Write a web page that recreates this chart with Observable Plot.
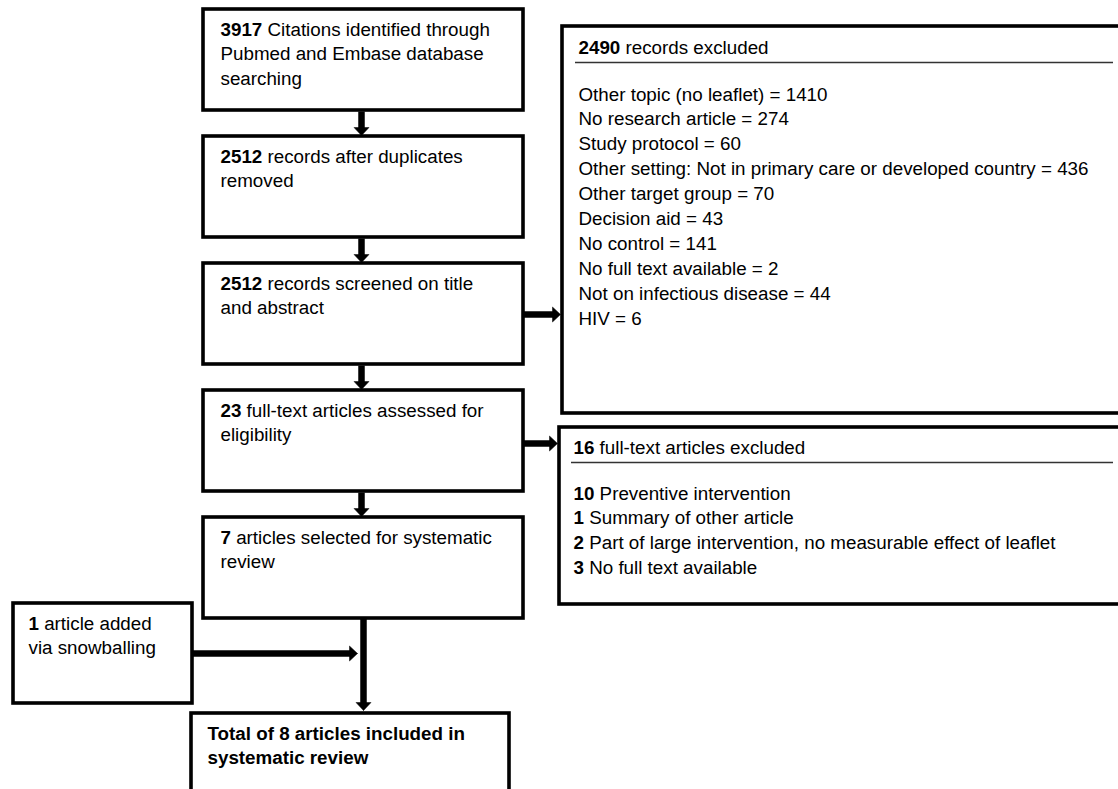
<!DOCTYPE html>
<html>
<head>
<meta charset="utf-8">
<script src="https://cdn.jsdelivr.net/npm/d3@7"></script>
<script src="https://cdn.jsdelivr.net/npm/@observablehq/plot@0.6"></script>
<style>
  html, body { margin: 0; padding: 0; background: white; overflow: hidden; }
  #chart svg { display: block; }
</style>
</head>
<body>
<div id="chart"></div>
<script>
// ---------- data ----------
const stageCounts = ["3917", "2512", "2512", "23", "7"];
const stageText = [
  ["Citations identified through", "Pubmed and Embase database", "searching"],
  ["records after duplicates", "removed"],
  ["records screened on title", "and abstract"],
  ["full-text articles assessed for", "eligibility"],
  ["articles selected for systematic", "review"]
];
const addedCount = "1";
const addedText = ["article added", "via snowballing"];
const finalText = ["Total of 8 articles included in", "systematic review"];

const excl1Count = "2490";
const excl1Title = "records excluded";
const excl1Reasons = [
  "Other topic (no leaflet)", "No research article", "Study protocol",
  "Other setting: Not in primary care or developed country", "Other target group",
  "Decision aid", "No control", "No full text available",
  "Not on infectious disease", "HIV"
];
const excl1Values = [1410, 274, 60, 436, 70, 43, 141, 2, 44, 6];

const excl2Count = "16";
const excl2Title = "full-text articles excluded";
const excl2Values = [10, 1, 2, 3];
const excl2Reasons = [
  "Preventive intervention", "Summary of other article",
  "Part of large intervention, no measurable effect of leaflet",
  "No full text available"
];

// ---------- layout ----------
const W = 1118, H = 789;
const FS = 18.8, LH = 24.9;
const FONT = '"Liberation Sans", Arial, Helvetica, sans-serif';
const layout = {
  colX1: 203, colX2: 523, rowTop: 9, rowPitch: 127, rowH: 101,
  added: {x1: 13, x2: 192, y1: 603, y2: 703},
  final: {x1: 191, x2: 509, y1: 713, y2: 830},
  ex1: {x1: 562, x2: 1124, y1: 26, y2: 413, sep: 62, head: 47, first: 94},
  ex2: {x1: 559, x2: 1124, y1: 427, y2: 604, sep: 462, head: 447, first: 493},
  pad: 17, arrowX: 361
};

const canvas = document.createElement("canvas");
const ctx = canvas.getContext("2d");
function measure(str, bold) {
  ctx.font = `${bold ? "bold " : ""}${FS}px ${FONT}`;
  return ctx.measureText(str).width;
}

// boxes
const boxes = [];
stageCounts.forEach((c, i) => {
  const y1 = layout.rowTop + layout.rowPitch * i;
  boxes.push({x1: layout.colX1, x2: layout.colX2, y1, y2: y1 + layout.rowH});
});
boxes.push(layout.added, layout.final, layout.ex1, layout.ex2);

// text segments
const segs = [];
function addLine(x, y, boldPart, rest) {
  if (boldPart) {
    segs.push({x, y, t: boldPart, bold: true});
    if (rest) segs.push({x: x + measure(boldPart, true) + measure(" ", false), y, t: rest, bold: false});
  } else {
    segs.push({x, y, t: rest, bold: false});
  }
}
stageCounts.forEach((c, i) => {
  const b = boxes[i];
  stageText[i].forEach((line, j) => {
    addLine(b.x1 + layout.pad, b.y1 + 20 + j * LH, j === 0 ? c : null, line);
  });
});
addedText.forEach((line, j) => addLine(layout.added.x1 + 15, layout.added.y1 + 20 + j * LH, j === 0 ? addedCount : null, line));
finalText.forEach((line, j) => segs.push({x: layout.final.x1 + 16, y: layout.final.y1 + 20 + j * LH, t: line, bold: true}));

addLine(layout.ex1.x1 + 16, layout.ex1.head, excl1Count, excl1Title);
excl1Reasons.forEach((r, j) => addLine(layout.ex1.x1 + 16, layout.ex1.first + j * LH, null, `${r} = ${excl1Values[j]}`));
addLine(layout.ex2.x1 + 14, layout.ex2.head, excl2Count, excl2Title);
excl2Reasons.forEach((r, j) => addLine(layout.ex2.x1 + 14, layout.ex2.first + j * LH, String(excl2Values[j]), r));

const seps = [
  {x1: layout.ex1.x1 + 13, x2: 1113, y: layout.ex1.sep},
  {x1: layout.ex2.x1 + 12, x2: 1113, y: layout.ex2.sep}
];

// arrows (tip at x2,y2)
const arrows = [];
for (let i = 0; i < 4; i++) {
  arrows.push({x1: layout.arrowX, y1: boxes[i].y2 + 1, x2: layout.arrowX, y2: boxes[i + 1].y1 - 1, head: true});
}
arrows.push({x1: layout.colX2, y1: 314, x2: layout.ex1.x1 - 2, y2: 314, head: true});
arrows.push({x1: layout.colX2, y1: 443, x2: layout.ex2.x1 - 2, y2: 443, head: true});
arrows.push({x1: layout.added.x2, y1: 653, x2: layout.arrowX - 4, y2: 653, head: true});
arrows.push({x1: layout.arrowX + 2, y1: boxes[4].y2, x2: layout.arrowX + 2, y2: layout.final.y1 - 3, head: true});

const HL = 8, HW = 7.5;
const shafts = arrows.map(a => {
  const dx = a.x2 - a.x1, dy = a.y2 - a.y1, L = Math.hypot(dx, dy);
  const ux = dx / L, uy = dy / L;
  return {x1: a.x1, y1: a.y1, x2: a.x2 - ux * (HL - 1), y2: a.y2 - uy * (HL - 1)};
});
const heads = [];
arrows.forEach((a, k) => {
  const dx = a.x2 - a.x1, dy = a.y2 - a.y1, L = Math.hypot(dx, dy);
  const ux = dx / L, uy = dy / L, px = -uy, py = ux;
  const bx = a.x2 - ux * HL, by = a.y2 - uy * HL;
  heads.push({k, x: a.x2, y: a.y2});
  heads.push({k, x: bx + px * HW, y: by + py * HW});
  heads.push({k, x: bx - px * HW, y: by - py * HW});
  heads.push({k, x: a.x2, y: a.y2});
});

const chart = Plot.plot({
  width: W, height: H, margin: 0,
  style: {fontFamily: FONT, background: "white", overflow: "hidden"},
  x: {domain: [0, W], range: [0, W], axis: null},
  y: {domain: [0, H], range: [0, H], axis: null},
  marks: [
    Plot.link(shafts, {x1: "x1", y1: "y1", x2: "x2", y2: "y2", stroke: "black", strokeWidth: 6.5}),
    Plot.line(heads, {x: "x", y: "y", z: "k", fill: "black", stroke: "black", strokeWidth: 0.5, curve: "linear"}),
    Plot.rect(boxes, {x1: "x1", x2: "x2", y1: "y1", y2: "y2", fill: "white", fillOpacity: 0, stroke: "black", strokeWidth: 3.6}),
    Plot.ruleY(seps, {x1: "x1", x2: "x2", y: "y", stroke: "#333", strokeWidth: 1.4}),
    Plot.text(segs.filter(s => !s.bold), {x: "x", y: "y", text: "t", textAnchor: "start", lineAnchor: "middle", fontSize: FS, fill: "black"}),
    Plot.text(segs.filter(s => s.bold), {x: "x", y: "y", text: "t", textAnchor: "start", lineAnchor: "middle", fontSize: FS, fontWeight: "bold", fill: "black"})
  ]
});
document.getElementById("chart").appendChild(chart);
</script>
</body>
</html>
